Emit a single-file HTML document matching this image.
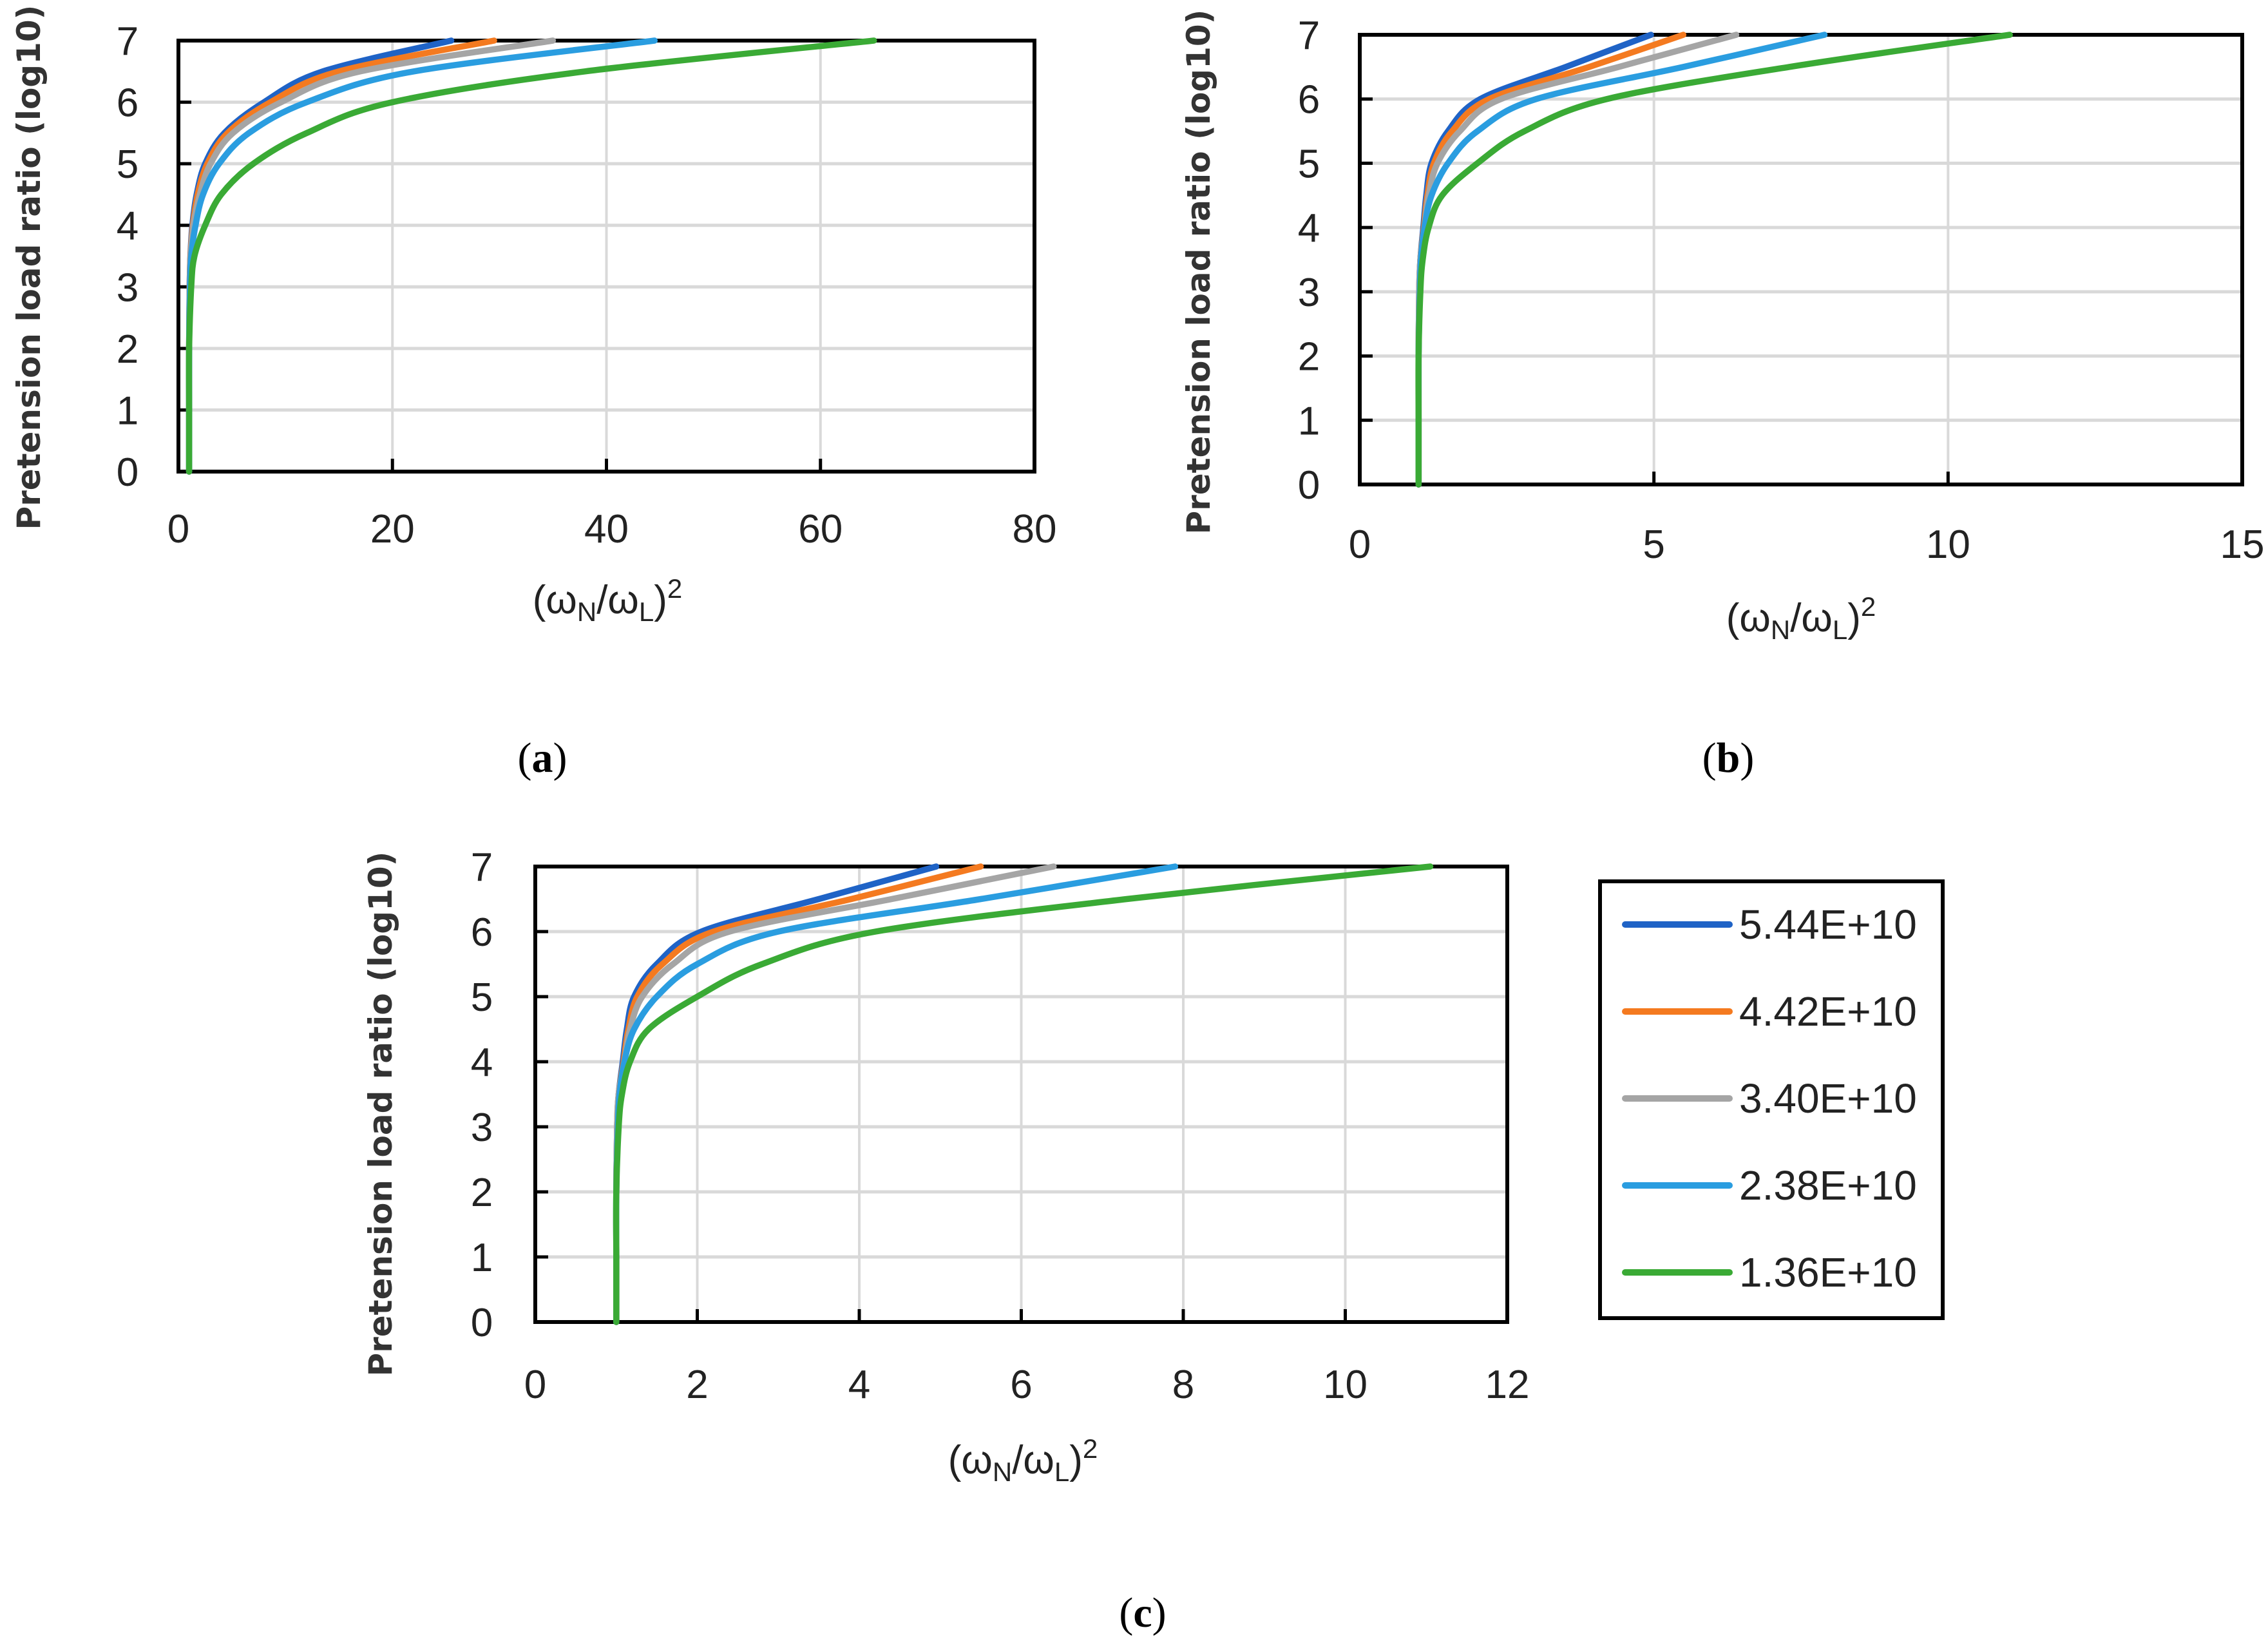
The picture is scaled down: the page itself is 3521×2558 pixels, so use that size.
<!DOCTYPE html>
<html><head><meta charset="utf-8"><style>
html,body{margin:0;padding:0;background:#fff}
svg{display:block}
text{font-family:"Liberation Sans Narrow","Liberation Sans",sans-serif;fill:#222}
.yt{font-family:"DejaVu Sans","Liberation Sans",sans-serif;font-weight:bold;fill:#333}
.cap{font-family:"Liberation Serif",serif;fill:#000}
</style></head><body>
<svg id="fig" width="3521" height="2558" viewBox="0 0 3521 2558" xmlns="http://www.w3.org/2000/svg"></svg>
<script>
const seriesLabels = ["5.44E+10","4.42E+10","3.40E+10","2.38E+10","1.36E+10"];
const seriesColors = ["#1f63c6","#f47a20","#a5a5a5","#2a9de0","#3aaa35"];
const yLevels = [0,1,2,3,3.5,4,4.5,5,5.5,6,6.5,7];
// panel (a) x values per series
const aBlue   = [1,1,1,1.05,1.12,1.3,1.7,2.5,4.3,8,13.5,25.5];
const aOrange = [1,1,1,1.05,1.13,1.35,1.8,2.7,4.6,8.6,15,29.5];
const aGray   = [1,1,1,1.06,1.15,1.4,2,3,5.1,9.6,17,35];
const aLBlue  = [1,1,1,1.08,1.2,1.6,2.3,3.8,6.6,12,22,44.5];
const aGreen  = [1,1,1,1.2,1.5,2.5,4,7,12,20,38,65];
// panel (b) and (c) x values per series
const cBlue   = [1,1,1,1.01,1.03,1.08,1.13,1.22,1.5,2.05,3.5,4.95];
const cOrange = [1,1,1,1.01,1.03,1.09,1.15,1.26,1.57,2.2,3.9,5.5];
const cGray   = [1,1,1,1.01,1.03,1.1,1.17,1.32,1.7,2.4,4.4,6.4];
const cLBlue  = [1,1,1,1.02,1.04,1.1,1.22,1.5,2.0,3.0,5.5,7.9];
const cGreen  = [1,1,1,1.03,1.07,1.17,1.4,2.0,2.8,4.2,7.3,11.05];
const aTicks = [0,20,40,60,80];
const bTicks = [0,5,10,15];
const cTicks = [0,2,4,6,8,10,12];
const yTicks = [0,1,2,3,4,5,6,7];

const NS="http://www.w3.org/2000/svg";
const svg=document.getElementById('fig');
function mk(tag,attrs,parent){const e=document.createElementNS(NS,tag);for(const k in attrs)e.setAttribute(k,attrs[k]);(parent||svg).appendChild(e);return e;}
function smooth(P){
  let d='M'+P[0][0].toFixed(1)+','+P[0][1].toFixed(1);
  for(let i=0;i<P.length-1;i++){
    const p0=P[i-1]||P[i],p1=P[i],p2=P[i+1],p3=P[i+2]||P[i+1];
    const c1=[p1[0]+(p2[0]-p0[0])/6,p1[1]+(p2[1]-p0[1])/6];
    const c2=[p2[0]-(p3[0]-p1[0])/6,p2[1]-(p3[1]-p1[1])/6];
    d+=' C'+c1.map(v=>v.toFixed(1))+' '+c2.map(v=>v.toFixed(1))+' '+p2.map(v=>v.toFixed(1));
  }
  return d;
}

function panel(id,box,xMax,xTicks,data,ylab,xlab,ytitle,xtitle){
  const g=mk('g',{});
  
  
  const X=v=>box.l+(v/xMax)*(box.r-box.l);
  const Y=v=>box.b-(v/7)*(box.b-box.t);
  yTicks.forEach(t=>{
    const l=mk('line',{x1:box.l,x2:box.r,y1:Y(t),y2:Y(t),stroke:'#d9d9d9','stroke-width':5},g);
    
    
    const tx=mk('text',{x:ylab,y:Y(t)+22,'text-anchor':'middle','font-size':62},g);
    tx.textContent=t;
    
    
    mk('line',{x1:box.l,x2:box.l+20,y1:Y(t),y2:Y(t),stroke:'#000','stroke-width':5},g);
  });
  xTicks.forEach(t=>{
    const l=mk('line',{x1:X(t),x2:X(t),y1:box.t,y2:box.b,stroke:'#d9d9d9','stroke-width':4},g);
    
    
    const tx=mk('text',{x:X(t),y:xlab,'text-anchor':'middle','font-size':62},g);
    tx.textContent=t;
    
    
    mk('line',{x1:X(t),x2:X(t),y1:box.b,y2:box.b-20,stroke:'#000','stroke-width':5},g);
  });
  const fr=mk('rect',{x:box.l,y:box.t,width:box.r-box.l,height:box.b-box.t,fill:'none',stroke:'#000','stroke-width':6},g);
  
  
  data.forEach((xs,i)=>{
    const P=xs.map((x,j)=>[X(x),Y(yLevels[j])]);
    const p=mk('path',{d:smooth(P),fill:'none',stroke:seriesColors[i],'stroke-width':9.5,'stroke-linejoin':'round','stroke-linecap':'round'},g);
    
    
  });
  const yt=mk('text',{x:0,y:0,'text-anchor':'middle','font-size':50,class:'yt',transform:`translate(${ytitle[0]},${ytitle[1]}) rotate(-90)`},g);
  yt.textContent='Pretension load ratio (log10)';
  
  
  const xt=mk('text',{x:xtitle[0],y:xtitle[1],'text-anchor':'middle','font-size':62},g);
  xt.innerHTML='(ω<tspan font-size="42" dy="12">N</tspan><tspan dy="-12">/ω</tspan><tspan font-size="42" dy="12">L</tspan><tspan dy="-12">)</tspan><tspan font-size="42" dy="-24">2</tspan>';
  
  
}
const aData=[aBlue,aOrange,aGray,aLBlue,aGreen];
const cData=[cBlue,cOrange,cGray,cLBlue,cGreen];
panel('a',{l:277,r:1606,t:63,b:732},80,aTicks,aData,198,842,[62,415],[943,952]);
panel('b',{l:2111,r:3481,t:54,b:752},15,bTicks,cData,2032,866,[1878,422],[2796,980]);
panel('c',{l:831,r:2340,t:1345,b:2052},12,cTicks,cData,748,2170,[608,1729],[1588,2287]);

// legend
const lg=mk('g',{});


mk('rect',{x:2484,y:1368,width:532,height:678,fill:'#fff',stroke:'#000','stroke-width':6},lg);
seriesLabels.forEach((s,i)=>{
  const y=1435+i*135;
  const e=mk('g',{},lg);
  
  
  mk('line',{x1:2523,x2:2685,y1:y,y2:y,stroke:seriesColors[i],'stroke-width':10,'stroke-linecap':'round'},e);
  const t=mk('text',{x:2700,y:y+22,'font-size':64},e);
  t.textContent=s;
});
// captions
[['(a)',842,1198],['(b)',2683,1198],['(c)',1774,2525]].forEach(c=>{
  const t=mk('text',{x:c[1],y:c[2],'text-anchor':'middle','font-size':66,class:'cap'});
  t.innerHTML='(<tspan font-weight="bold">'+c[0][1]+'</tspan>)';
  
  
});
</script>
</body></html>
